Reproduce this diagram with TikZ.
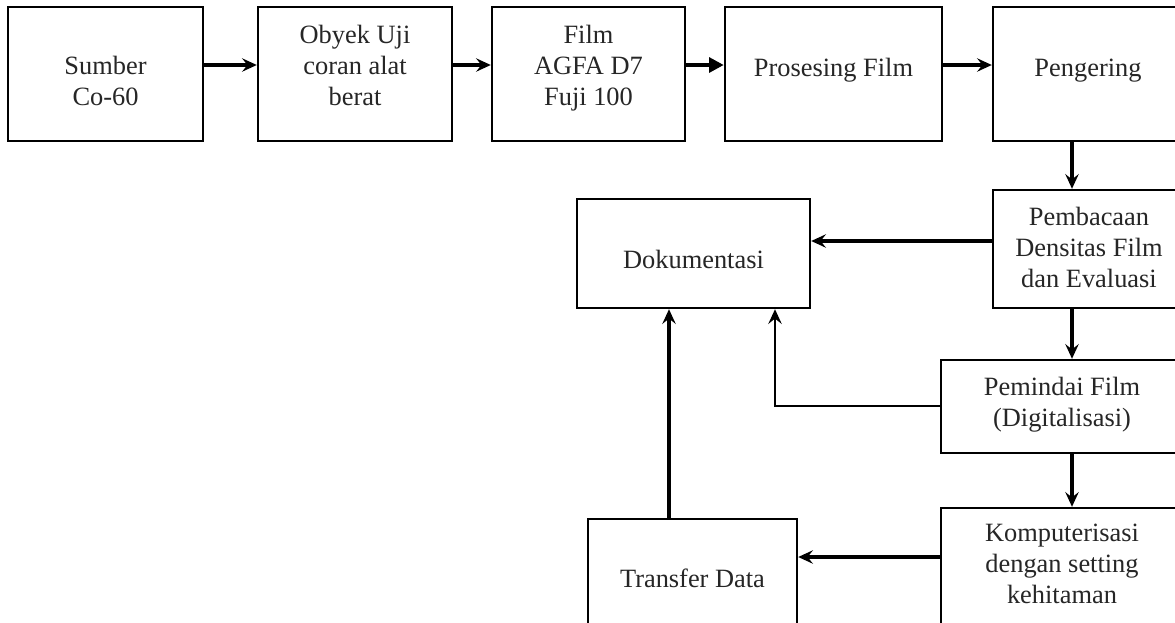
\documentclass[tikz,border=0pt]{standalone}
\usepackage{fontspec}
\setmainfont{Liberation Serif}
\usetikzlibrary{arrows.meta}
\tikzset{
  box/.style={draw, line width=1.8pt, rectangle, inner sep=0pt},
  lbl/.style={align=center, inner sep=0pt, text=black!85, font=\fontsize{19.8pt}{23.25pt}\selectfont,
    execute at begin node=\strut, execute at end node=\strut},
  arr/.style={line width=2.8pt, -{Stealth[length=11pt,width=10pt,inset=4pt]}},
  bigarr/.style={line width=2.8pt, -{Triangle[length=11pt,width=11pt]}},
  thin arr/.style={line width=2.2pt, -{Stealth[length=11pt,width=10pt,inset=4pt]}}
}
\begin{document}
\begin{tikzpicture}[x=0.75pt,y=-0.75pt]
\clip (0,0) rectangle (1175,622);
\fill[white] (0,0) rectangle (1175,622);
% boxes (pixel geometry)
\node[box, minimum width=146.25pt, minimum height=100.5pt] (b1) at (105.5,74) {};
\node[box, minimum width=145.5pt, minimum height=100.5pt] (b2) at (355,74) {};
\node[box, minimum width=144.75pt, minimum height=100.5pt] (b3) at (588.5,74) {};
\node[box, minimum width=162.75pt, minimum height=100.5pt] (b4) at (833.5,74) {};
\node[box, minimum width=142.5pt, minimum height=100.5pt] (b5) at (1088,74) {};
\node[box, minimum width=144pt, minimum height=88.5pt] (b6) at (1089,249) {};
\node[box, minimum width=174.75pt, minimum height=81.75pt] (b7) at (693.5,253.5) {};
\node[box, minimum width=181.5pt, minimum height=69.75pt] (b8) at (1062,406.5) {};
\node[box, minimum width=181.5pt, minimum height=88.5pt] (b9) at (1062,567) {};
\node[box, minimum width=156.75pt, minimum height=88.5pt] (b10) at (692.5,578) {};
% texts
\node[lbl] (t1) at (105.5,85.3) {Sumber\\Co-60};
\node[lbl] (t2) at (355,69.8) {Obyek Uji\\coran alat\\berat};
\node[lbl] (t3) at (588.5,69.8) {Film\\AGFA D7\\Fuji 100};
\node[lbl] (t4) at (833.5,69.8) {Prosesing Film};
\node[lbl] (t5) at (1088,69.8) {Pengering};
\node[lbl] (t6) at (1089,252.3) {Pembacaan\\Densitas Film\\dan Evaluasi};
\node[lbl] (t7) at (693.5,261.8) {Dokumentasi};
\node[lbl] (t8) at (1062,406.3) {Pemindai Film\\(Digitalisasi)};
\node[lbl] (t9) at (1062,568.8) {Komputerisasi\\dengan setting\\kehitaman};
\node[lbl] (t10) at (692.5,580.8) {Transfer Data};
% connectors
\draw[arr] (b1.east |- 0,65) -- (b2.west |- 0,65);
\draw[arr] (b2.east |- 0,65) -- (b3.west |- 0,65);
\draw[bigarr] (b3.east |- 0,65) -- (b4.west |- 0,65);
\draw[arr] (b4.east |- 0,65) -- (b5.west |- 0,65);
\draw[arr] (b5.south -| 1072,0) -- (b6.north -| 1072,0);
\draw[arr] (b6.west |- 0,241) -- (b7.east |- 0,241);
\draw[arr] (b6.south -| 1072,0) -- (b8.north -| 1072,0);
\draw[thin arr] (b8.west |- 0,406) -| (b7.south -| 775,0);
\draw[arr] (b8.south -| 1072,0) -- (b9.north -| 1072,0);
\draw[arr] (b9.west |- 0,557) -- (b10.east |- 0,557);
\draw[arr] (b10.north -| 669,0) -- (b7.south -| 669,0);
\end{tikzpicture}
\end{document}
